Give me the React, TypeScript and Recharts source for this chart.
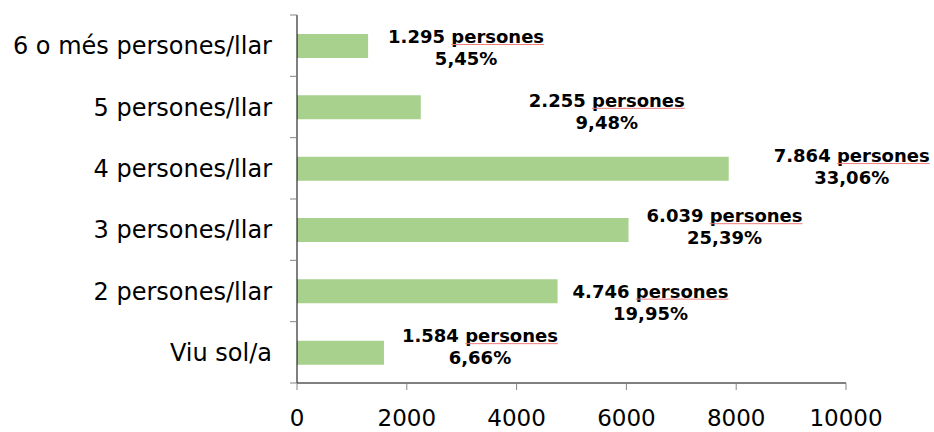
import React from 'react';
import { BarChart, Bar, XAxis, YAxis, LabelList } from 'recharts';

const categories = [
  '6 o més persones/llar',
  '5 persones/llar',
  '4 persones/llar',
  '3 persones/llar',
  '2 persones/llar',
  'Viu sol/a',
];
const persons = [1295, 2255, 7864, 6039, 4746, 1584];
const percents = [5.45, 9.48, 33.06, 25.39, 19.95, 6.66];
const xTicks = [0, 2000, 4000, 6000, 8000, 10000];

// manual label placement (offset from bar end / bar centre), as in the source
const labelDx = [98, 186, 123, 96, 93, 96];
const labelDy = [-3, -0.5, -6.6, -7.8, 6.3, -10.5];

const data = categories.map((c, i) => ({ category: c, persons: persons[i] }));

const W = 934;
const H = 432;
const M = { top: 15, right: 88, bottom: 0, left: 0 };
const YAXIS_W = 297;
const XAXIS_H = 49;
const AXIS_X = M.left + YAXIS_W;
const BAND = (H - M.top - XAXIS_H) / categories.length;
const FONT = "'DejaVu Sans', Verdana, sans-serif";

const fmtInt = (n: number) => String(n).replace(/\B(?=(\d{3})+(?!\d))/g, '.');
const fmtPct = (p: number) => p.toFixed(2).replace('.', ',') + '%';

let canvasCtx: CanvasRenderingContext2D | null = null;
const measure = (s: string, font: string) => {
  if (!canvasCtx) {
    const c = document.createElement('canvas');
    canvasCtx = c.getContext('2d');
  }
  if (!canvasCtx) return s.length * 10;
  canvasCtx.font = font;
  return canvasCtx.measureText(s).width;
};

const DataLabel = (props: any) => {
  const { x, y, width, height, index } = props;
  const cx = Number(x) + Number(width) + labelDx[index];
  const cy = Number(y) + Number(height) / 2 + labelDy[index];
  const line1 = `${fmtInt(persons[index])} persones`;
  const font = `bold 18px 'DejaVu Sans'`;
  const total = measure(line1, font);
  const word = measure('persones', font);
  const right = cx + total / 2;
  return (
    <g>
      <text x={cx} y={cy} textAnchor="middle" fontFamily={FONT} fontWeight="bold" fontSize={18} fill="#000">
        {line1}
      </text>
      <line x1={right - word} x2={right} y1={cy + 1.5} y2={cy + 1.5} stroke="#f07c7c" strokeWidth={1} />
      <text x={cx} y={cy + 22} textAnchor="middle" fontFamily={FONT} fontWeight="bold" fontSize={18} fill="#000">
        {fmtPct(percents[index])}
      </text>
    </g>
  );
};

const YTick = (props: any) => {
  const { y, payload, index } = props;
  const top = y - BAND / 2;
  const bottom = y + BAND / 2;
  return (
    <g>
      <line x1={AXIS_X - 7} x2={AXIS_X} y1={top} y2={top} stroke="#868686" strokeWidth={1} />
      {index === categories.length - 1 && (
        <line x1={AXIS_X - 7} x2={AXIS_X} y1={bottom} y2={bottom} stroke="#868686" strokeWidth={1} />
      )}
      <text x={AXIS_X - 25} y={y} dy="0.355em" textAnchor="end" fontFamily={FONT} fontSize={24} fill="#000">
        {payload.value}
      </text>
    </g>
  );
};

export default function App() {
  return (
    <div style={{ position: 'absolute', left: 0, top: 0, width: W, height: H, background: '#fff' }}>
      <BarChart width={W} height={H} data={data} layout="vertical" margin={M}>
        <XAxis
          type="number"
          domain={[0, 10000]}
          ticks={xTicks}
          interval={0}
          height={XAXIS_H}
          axisLine={{ stroke: '#000', strokeWidth: 1 }}
          tickLine={{ stroke: '#868686', strokeWidth: 1 }}
          tickSize={7}
          tickMargin={20}
          tick={{ fontSize: 23, fill: '#000', fontFamily: FONT }}
        />
        <YAxis
          type="category"
          dataKey="category"
          width={YAXIS_W}
          interval={0}
          axisLine={{ stroke: '#000', strokeWidth: 1 }}
          tickLine={false}
          tick={<YTick />}
        />
        <Bar dataKey="persons" fill="#A9D18E" barSize={24} isAnimationActive={false}>
          <LabelList dataKey="persons" content={<DataLabel />} />
        </Bar>
      </BarChart>
    </div>
  );
}
